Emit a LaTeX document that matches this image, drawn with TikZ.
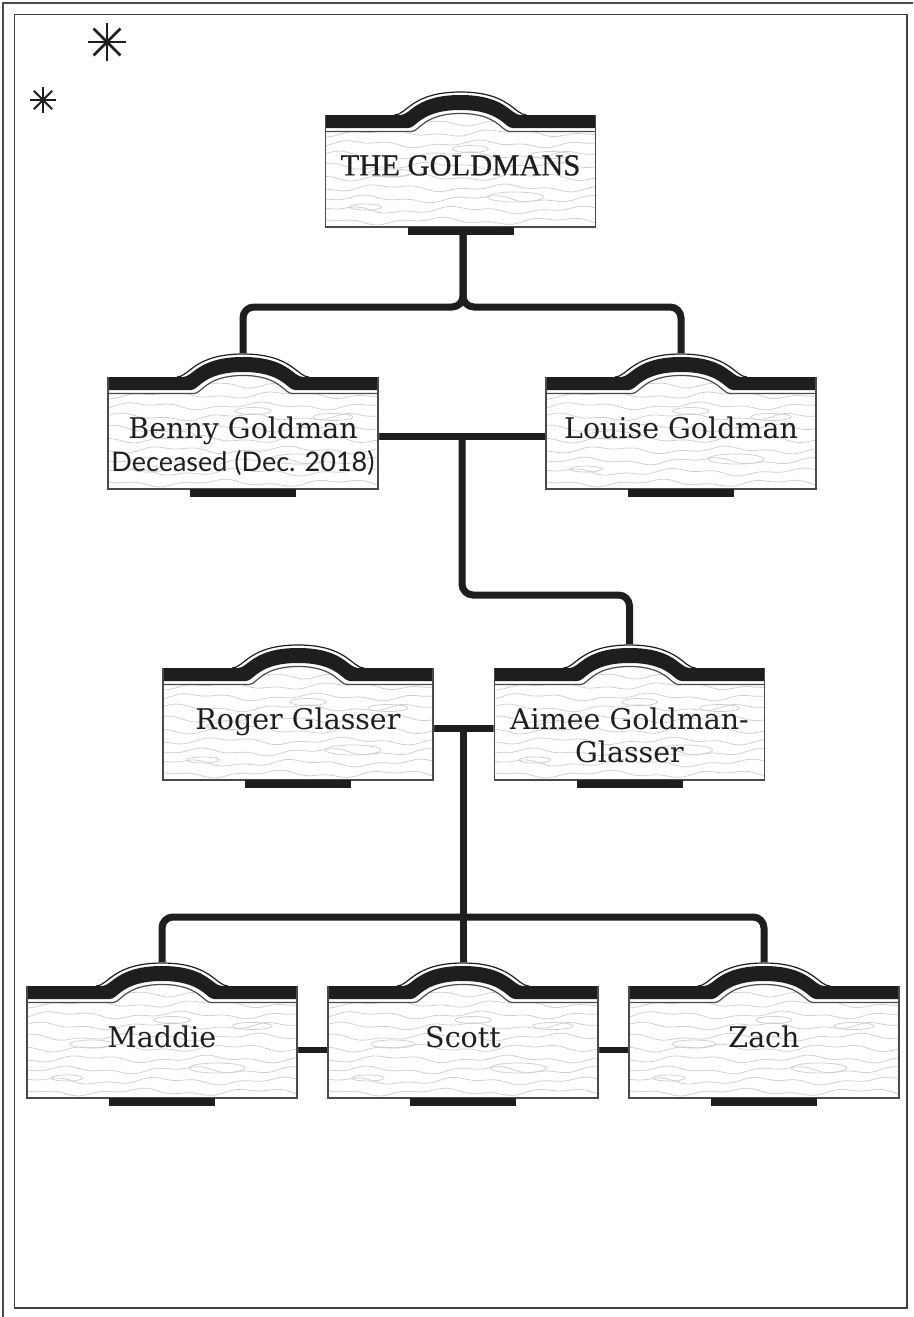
\documentclass[tikz,border=0pt]{standalone}
\usepackage{fontspec}
\newfontfamily\namefont{DejaVu Serif}
\newfontfamily\notefont{Lato}
\newfontfamily\titlefont[FakeBold=0.6]{Liberation Serif}
\usetikzlibrary{calc,positioning}
\definecolor{ink}{HTML}{1E1E1E}
\definecolor{grainc}{HTML}{CFCFCF}
\definecolor{rimc}{HTML}{4A4A4A}
\pgfdeclarelayer{links}
\pgfdeclarelayer{boards}
\pgfsetlayers{links,boards,main}
\tikzset{
  grain/.style={draw=grainc,line width=0.75pt},
  rim/.style={draw=rimc,line width=1.2pt}
}
\newcommand\drawboard[1]{%
  \begin{scope}[shift={($(#1.north)+(0,-40)$)}]
    \fill[white] (-136,0) -- (-66,0) .. controls (-54,0) and (-49,-24) .. (0,-24) .. controls (49,-24) and (54,0) .. (66,0) -- (136,0) -- (136,113) -- (-136,113) -- cycle;
    \begin{scope}
      \clip (-135,16) -- (-49,16) .. controls (-41,16) and (-37,-2) .. (0,-2) .. controls (37,-2) and (41,16) .. (49,16) -- (135,16) -- (135,112) -- (-135,112) -- cycle;
      \foreach \k in {0,...,10}
        \draw[grain] plot[smooth,samples=40,domain=-140:140] (\x,{-4+11*\k+2.5*sin(3*\x+70*\k)+1.5*sin(8*\x+40*\k)});
      \draw[grain] (-70,58) ellipse (22 and 4) (55,82) ellipse (28 and 5) (10,34) ellipse (18 and 3.5) (-95,92) ellipse (16 and 3) (90,40) ellipse (20 and 3.5);
    \end{scope}
    \fill[ink] (-135,0) -- (-60,0) .. controls (-50,0) and (-45,-20) .. (0,-20) .. controls (45,-20) and (50,0) .. (60,0) -- (135,0) -- (135,13) -- (52,13) .. controls (44,13) and (40,-5) .. (0,-5) .. controls (-40,-5) and (-44,13) .. (-52,13) -- (-135,13) -- cycle;
    \draw[rim,draw=ink] (-66,0) .. controls (-54,0) and (-49,-23) .. (0,-23) .. controls (49,-23) and (54,0) .. (66,0);
    \draw[rim] (-135,16.5) -- (-49,16.5) .. controls (-41,16.5) and (-37,-1.5) .. (0,-1.5) .. controls (37,-1.5) and (41,16.5) .. (49,16.5) -- (135,16.5);
    \draw[rim] (-135,0) -- (-135,112) -- (135,112) -- (135,0);
    \fill[ink] (-53,112) rectangle (53,120);
  \end{scope}}

\begin{document}
\begin{tikzpicture}[x=1pt,y=-1pt,
    board/.style={minimum width=270pt,inner sep=0pt,anchor=north,align=center,text=ink,font=\namefont\fontsize{28.5}{33}\selectfont},
    link/.style={draw=ink,line width=7pt,rounded corners=11pt},
    sibling/.style={draw=ink,line width=5.5pt}]
  \useasboundingbox (0,0) rectangle (913,1317);
  \draw[rim,line width=1.5pt] (3,1317) -- (3,3) -- (913,3);
  \draw[draw=ink!85,line width=1.8pt] (14.5,14.5) rectangle (907,1308);
  \foreach \a in {0,45,90,135} {
    \draw[ink,line width=2.6pt] (107,42) ++(\a:19) -- ++(\a+180:38);
    \draw[ink,line width=2pt] (43,100) ++(\a:13) -- ++(\a+180:26);
  }

  \node[board,font=\titlefont\fontsize{30.5}{33}\selectfont] (top) at (460.5,155) {THE GOLDMANS};
  \node[board] (benny) at (243,417) {Benny Goldman\\{\notefont\fontsize{27}{33}\selectfont Deceased (Dec. 2018)}};
  \node[board] (louise) at (681,417) {Louise Goldman};
  \node[board] (roger) at (298,708) {Roger Glasser};
  \node[board] (aimee) at (629.5,708) {Aimee Goldman-\\Glasser};
  \node[board] (maddie) at (162,1026) {Maddie};
  \node[board] (scott) at (463,1026) {Scott};
  \node[board] (zach) at (764,1026) {Zach};

  \coordinate (fork) at (463,307);
  \coordinate (wed1) at (462,436);
  \coordinate (bend1) at (462,595);
  \coordinate (wed2) at (463,728);
  \coordinate (kids) at (463,917);

  \begin{pgfonlayer}{links}
    \fill[white] (0,0) rectangle (913,1317);
    \draw[link] (fork |- top.north) -- (fork) -| (benny.north);
    \draw[link] (fork |- top.north) -- (fork) -| (louise.north);
    \draw[link] ([yshift=-19pt]benny.north) -- ([yshift=-19pt]louise.north);
    \draw[link] (wed1) -- (bend1) -| (aimee.north);
    \draw[link] ([yshift=-20pt]roger.north) -- ([yshift=-20pt]aimee.north);
    \draw[link] (wed2) -- (scott.north);
    \draw[link] (kids) -| (maddie.north);
    \draw[link] (kids) -| (zach.north);
    \draw[sibling] ([yshift=-24pt]maddie.north) -- ([yshift=-24pt]scott.north);
    \draw[sibling] ([yshift=-24pt]scott.north) -- ([yshift=-24pt]zach.north);
  \end{pgfonlayer}

  \begin{pgfonlayer}{boards}
    \foreach \n in {top,benny,louise,roger,aimee,maddie,scott,zach}
      \drawboard{\n};
  \end{pgfonlayer}
\end{tikzpicture}
\end{document}
